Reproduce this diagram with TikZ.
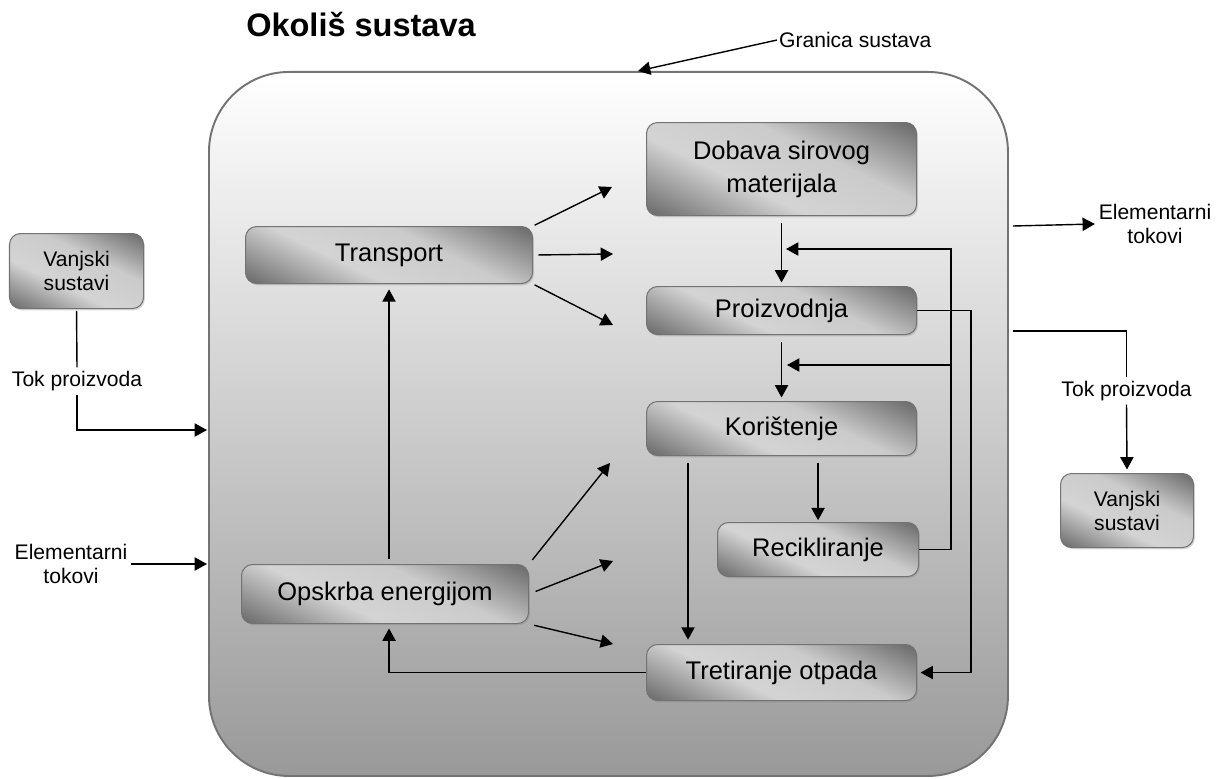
\documentclass[tikz,border=0pt]{standalone}
\usepackage{fontspec}
\setmainfont{Liberation Sans}
\usetikzlibrary{arrows.meta,shadows,calc}

\definecolor{kdunkel}{gray}{0.4}
\definecolor{khell}{gray}{0.83}
\definecolor{rand}{gray}{0.45}
\definecolor{umgunten}{gray}{0.6}
\pgfdeclarehorizontalshading{kastenshade}{100bp}{color(0bp)=(kdunkel); color(16bp)=(kdunkel); color(40bp)=(khell); color(60bp)=(khell!92!kdunkel); color(84bp)=(kdunkel); color(100bp)=(kdunkel)}

\tikzset{
  kasten/.style={rectangle, rounded corners=0.22cm, draw=rand, line width=0.6pt, shading=kastenshade, shading angle=64, anchor=north west, align=center, font=\fontsize{14.5}{18.8}\selectfont, drop shadow={shadow xshift=0.8pt, shadow yshift=-1pt, opacity=0.3}},
  kleinkasten/.style={kasten, font=\fontsize{12}{13.6}\selectfont},
  beschr/.style={align=center, font=\fontsize{12}{13.6}\selectfont, inner sep=2pt},
  linie/.style={line width=0.8pt},
  tok/.style={linie, -{Triangle[length=7pt,width=7.5pt]}}
}

\begin{document}
\begin{tikzpicture}
\useasboundingbox (0,0) rectangle (24.4,-15.56);

% Systemgrenze
\node (umgebung) [rectangle, draw=rand, line width=1.1pt, rounded corners=1.6cm, top color=white, bottom color=umgunten, minimum width=15.98cm, minimum height=14.08cm, anchor=north west] at (4.16,-1.42) {};
\node (titel) [font=\fontsize{18.5}{22}\selectfont\bfseries] at (7.22,-0.5) {Okoliš sustava};
\node (granica) [anchor=west, font=\fontsize{12}{14}\selectfont, inner sep=1pt] at (15.54,-0.8) {Granica sustava};
\coordinate (grenzpunkt) at (12.76,-1.42);
\draw[tok] (granica.west) -- (grenzpunkt);

% Kaesten innen
\node (dobava) [kasten, minimum width=5.4cm, minimum height=1.86cm] at (12.92,-2.44) {Dobava sirovog\\materijala};
\node (proizv) [kasten, minimum width=5.4cm, minimum height=0.96cm] at (12.92,-5.72) {Proizvodnja};
\node (korist) [kasten, minimum width=5.4cm, minimum height=1.08cm] at (12.92,-8.02) {Korištenje};
\node (recik) [kasten, minimum width=4.02cm, minimum height=1.08cm] at (14.34,-10.44) {Recikliranje};
\node (tretir) [kasten, minimum width=5.4cm, minimum height=1.12cm] at (12.92,-12.88) {Tretiranje otpada};
\node (transp) [kasten, minimum width=5.74cm, minimum height=1.14cm] at (4.9,-4.52) {Transport};
\node (opskrba) [kasten, minimum width=5.74cm, minimum height=1.18cm] at (4.82,-11.28) {Opskrba energijom};

% Kaesten aussen
\node (vanjL) [kleinkasten, minimum width=2.68cm, minimum height=1.5cm] at (0.18,-4.66) {Vanjski\\sustavi};
\node (vanjR) [kleinkasten, minimum width=2.66cm, minimum height=1.48cm] at (21.2,-9.46) {Vanjski\\sustavi};
\node (tokL) [beschr] at (1.54,-7.62) {Tok proizvoda};
\node (elemL) [beschr] at (1.42,-11.28) {Elementarni\\tokovi};
\node (elemR) [beschr] at (23.1,-4.48) {Elementarni\\tokovi};
\node (tokR) [beschr] at (22.53,-7.82) {Tok proizvoda};

\coordinate (cL) at (4.14,-8.6);
\coordinate (cE) at (4.14,-11.28);
\coordinate (cR1) at (20.26,-4.52);
\coordinate (cR2) at (20.26,-6.62);

% freie Pfeilenden
\coordinate (t1) at (12.24,-3.74);
\coordinate (t2) at (12.26,-5.08);
\coordinate (t3) at (12.26,-6.5);
\coordinate (o1) at (12.2,-9.26);
\coordinate (o2) at (12.26,-11.22);
\coordinate (o3) at (12.26,-12.88);
\coordinate (rueck1) at (15.72,-4.98);
\coordinate (rueck2) at (15.74,-7.3);
\coordinate (rueckknick) at ($(recik.east)+(0.64,0)$);

% Fluesse innen
\draw[tok, shorten <=4pt, shorten >=2pt] (dobava.south) -- (proizv.north);
\draw[tok, shorten <=4pt, shorten >=2pt] (proizv.south) -- (korist.north);
\draw[tok, shorten <=4pt, shorten >=1pt] (recik.north |- korist.south) -- (recik.north);
\draw[tok, shorten <=4pt, shorten >=2.5pt] ([xshift=0.84cm]korist.south west) -- ([xshift=0.84cm]tretir.north west);
\draw[tok] (recik.east) -| (rueck1 -| rueckknick) -- (rueck1);
\draw[tok] (rueck2 -| rueckknick) -- (rueck2);
\draw[tok, shorten >=2pt] (proizv.east) -- ++(1.08,0) |- (tretir.east);
\draw[tok, shorten >=2.5pt] (tretir.west) -| (transp.south |- opskrba.south);
\draw[tok, shorten <=3pt, shorten >=3pt] (transp.south |- opskrba.north) -- (transp.south);

\draw[tok, shorten <=1pt] (transp.north east) -- (t1);
\draw[tok, shorten <=3pt] (transp.east) -- (t2);
\draw[tok, shorten <=1pt] (transp.south east) -- (t3);
\draw[tok, shorten <=3pt] (opskrba.north east) -- (o1);
\draw[tok, shorten <=4pt] (opskrba.east) -- (o2);
\draw[tok, shorten <=3pt] (opskrba.south east) -- (o3);

% Fluesse aussen
\draw[linie, shorten <=1pt] (vanjL.south) -- (tokL.north);
\draw[tok] (tokL.south) |- (cL);
\draw[tok] (elemL.east) -- (cE);
\draw[tok] (cR1) -- (elemR.west);
\draw[linie] (cR2) -| (tokR.north);
\draw[tok, shorten >=2pt] (tokR.south) -- (vanjR.north);
\end{tikzpicture}
\end{document}
